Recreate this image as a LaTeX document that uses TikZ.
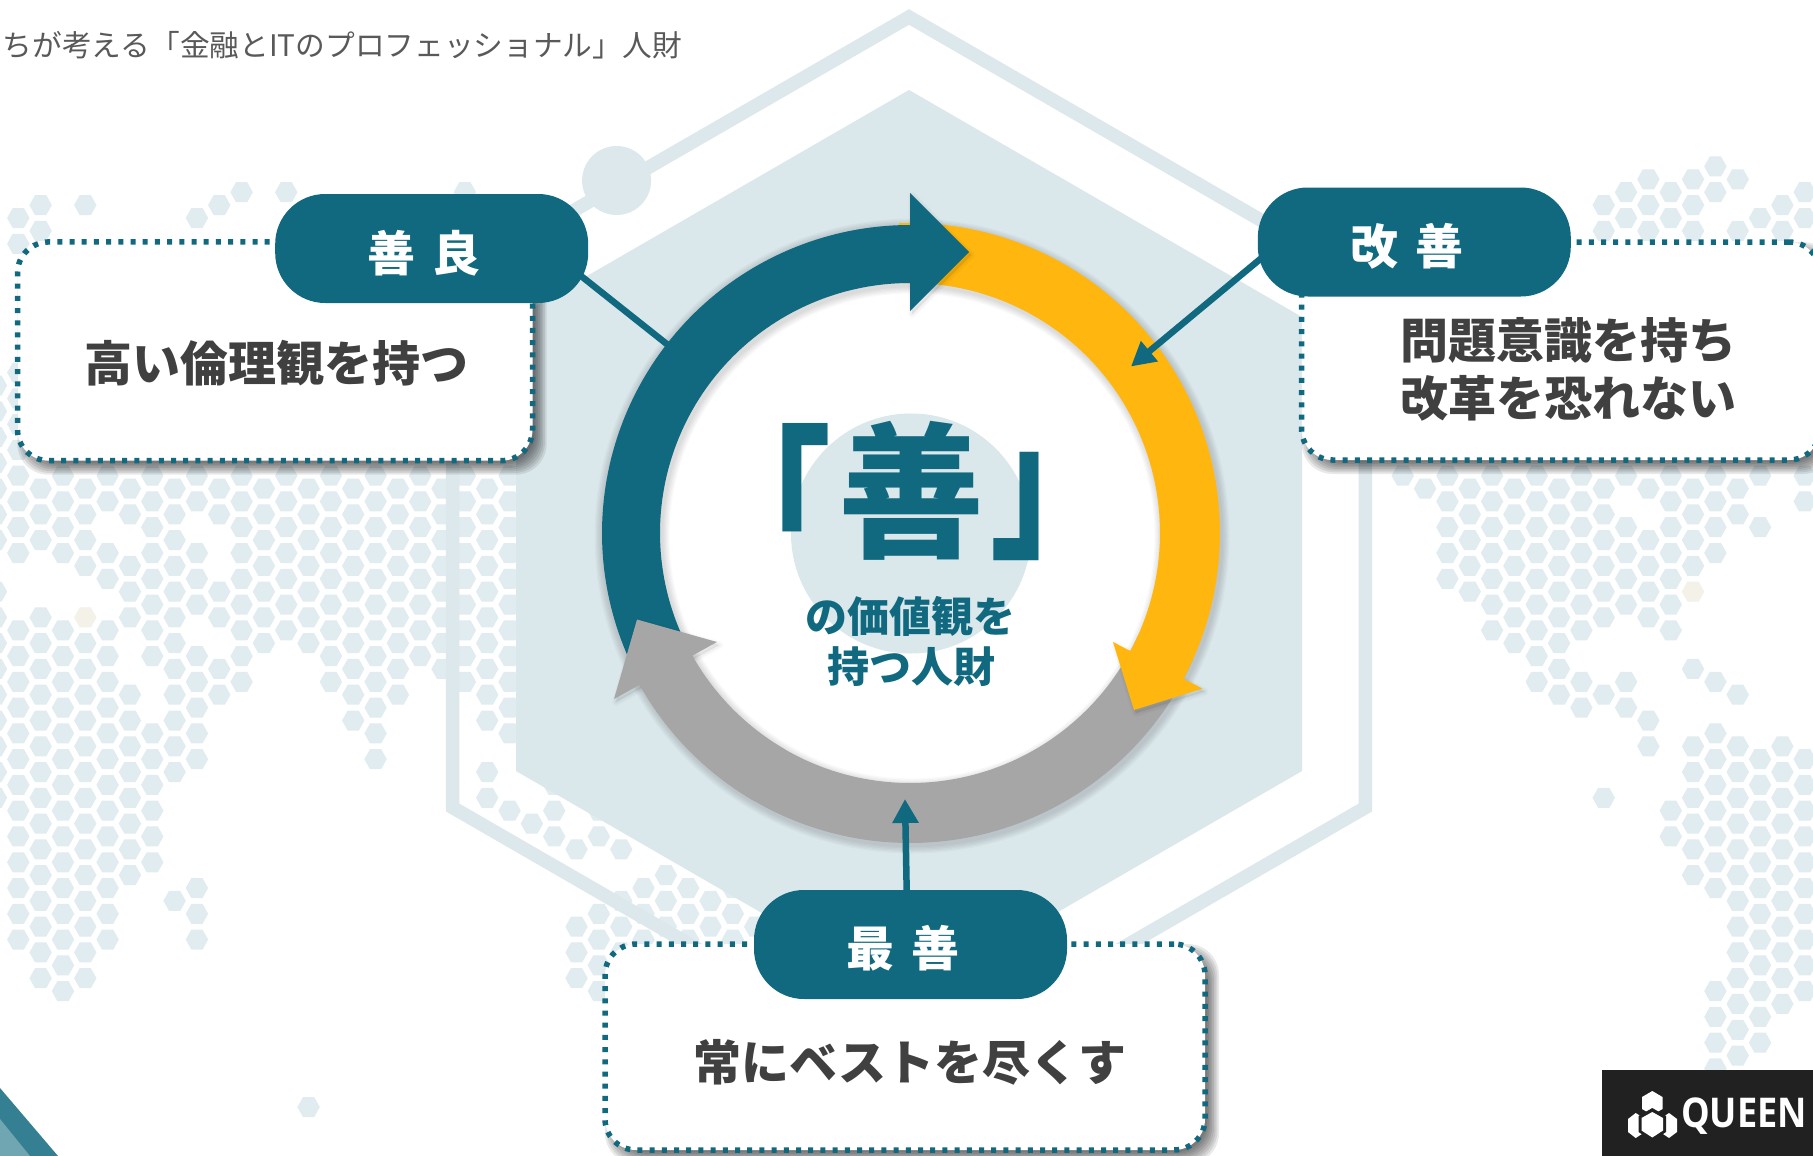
\documentclass[tikz,border=0pt]{standalone}
\usepackage{fontspec}
\setmainfont{Noto Sans CJK JP}
\newfontfamily\qfont[FakeStretch=0.88]{Open Sans}
\usetikzlibrary{arrows.meta}
\definecolor{qteal}{HTML}{10697F}
\definecolor{qyellow}{HTML}{FFB60F}
\definecolor{qgray}{HTML}{A6A6A6}
\definecolor{qfill}{HTML}{DAE7EB}
\definecolor{qline}{HTML}{DCE8EC}
\definecolor{qhex}{HTML}{E1ECF0}
\definecolor{qbeige}{HTML}{F4F1E8}
\definecolor{qtext}{HTML}{404040}
\definecolor{qtitle}{HTML}{595959}
\newcommand\fs[1]{\fontsize{#1pt}{#1pt}\selectfont}
\newcommand\hexat[3]{%
  \pgfmathsetmacro\hx{18.3+22.33*#1}%
  \pgfmathsetmacro\hy{475.7+25.77*#2+12.88*mod(#1+100,2)}%
  \fill[#3] (\hx-11.2,\hy) -- (\hx-5.6,\hy-10) -- (\hx+5.6,\hy-10) -- (\hx+11.2,\hy) -- (\hx+5.6,\hy+10) -- (\hx-5.6,\hy+10) -- cycle;}
\newcommand\ringsec[4]{%
  \fill[#1] plot[domain=#2:#3,samples=90,variable=\ang] ({910+#4*cos(\ang)},{533-#4*sin(\ang)})
    -- plot[domain=#3:#2,samples=90,variable=\ang] ({910+250*cos(\ang)},{533-250*sin(\ang)}) -- cycle;}
\newcommand\softshadow[1]{%
  \foreach \w in {2,4,6,8}{\draw[black,opacity=.015,fill=black,fill opacity=.015,line width=\w pt,line join=round,shift={(2,3)}] #1 -- cycle;}}
\newcommand\boxshadow[4]{%
  \foreach \k in {0,...,7}{%
    \pgfmathsetmacro\ii{7-\k*1.7}%
    \fill[black,opacity=.085,rounded corners=31pt] (#1+7-\ii,#2+7-\ii) rectangle (#3+7+\ii,#4+7+\ii);}}
\tikzset{
  pill/.style={rectangle,rounded corners=50pt,fill=qteal,inner sep=0pt,minimum width=313pt,minimum height=109pt},
  pilltext/.style={text=white,inner sep=0pt,font=\fs{48}\bfseries},
  dotbox/.style={rectangle,rounded corners=31pt,fill=white,draw=qteal,line width=5.5pt,dash pattern=on 5pt off 7.2pt,inner sep=0pt},
  bodytext/.style={text=qtext,font=\fs{48}\bfseries,align=center,inner sep=0pt},
  centertext/.style={text=qteal,font=\fs{42}\bfseries,inner sep=0pt},
  bigtext/.style={text=qteal,inner sep=0pt,font=\fs{146}\bfseries},
  conn/.style={draw=qteal,line width=6.5pt},
  connarrow/.style={conn,-{Triangle[length=24pt,width=25pt]}}
}
\begin{document}
\begin{tikzpicture}[x=1pt,y=-1pt]
\useasboundingbox (0,0) rectangle (1813,1156);
\clip (0,0) rectangle (1813,1156);
\fill[white] (0,0) rectangle (1813,1156);
% world map hexagons
\foreach \i/\js in {
 -1/{-4,-3,...,2,4,5,...,12},
 0/{-10,-9,-4,-3,...,3,6,7,...,18},
 1/{-11,-10,0,1,2,5,6,...,19},
 2/{0,1,2,3,6,7,...,20},
 3/{-11,0,1,2,3,6,7,...,19},
 4/{0,1,3,4,6,7,...,18},
 5/{0,1,3,4,5,8,9,...,15},
 6/{0,1,...,7,10,11,...,15},
 7/{0,1,...,11,16},
 8/{-10,0,1,3,4,5,7,8,9,10,11,16,17,18},
 9/{-11,0,1,4,5,7,8},
 10/{-11,0,1,...,8},
 11/{0,1,...,6},
 12/{-11,0,1,...,6},
 13/{0,1,...,6,24},
 14/{0,1,...,8},
 15/{0,1,...,9},
 16/{0,1,...,11},
 17/{0,1,...,8},
 18/{0,1,...,7},
 19/{0,1,...,7},
 20/{-11,0,1,...,8},
 21/{0,1,...,9,11,12},
 22/{0,1,...,10,13},
 23/{13},
 24/{12,13,14},
 25/{14,17,18,19},
 26/{13,14,17,18,19,20},
 27/{14,16,17,18},
 28/{16,17,18},
 29/{15,16,17},
 30/{16,17,18},
 31/{16,17},
 32/{16,17,18},
 33/{17},
 62/{0},
 63/{0},
 64/{0,1,...,4},
 65/{0,1,...,4},
 66/{0,1,...,6},
 67/{0,1,...,6},
 68/{0,1,...,8},
 69/{0,1,...,8},
 70/{0,1,...,6,8,9},
 71/{-11,-10,0,1,...,5,8,12},
 72/{-11,-10,0,2,3,4,5,8,9},
 73/{-12,-11,-10,0,2,3,4,5,9,10},
 74/{-11,-10,0,1,...,6,13,14},
 75/{-12,-11,-10,0,1,2,3,7,10,11,...,15},
 76/{-12,-11,0,1,2,3,8,10,11,...,16,20,21,22,23},
 77/{-12,-10,0,1,8,10,11,...,22},
 78/{-10,0,2,11,12,...,22},
 79/{-11,-10,10,11,...,20},
 80/{-11,-10,0,1,11,12,...,20}}{
  \foreach \j in \js {\hexat{\i}{\j}{qhex}}
}
\hexat{3}{5}{qbeige}
\hexat{75}{4}{qbeige}
% filled hexagon and outline
\fill[qfill] (909,90) -- (1302,317) -- (1302,771) -- (909,998) -- (516,771) -- (516,317) -- cycle;
\draw[qline,line width=13.5pt,line join=miter] (909,17) -- (1365.4,280.5) -- (1365.4,807.5) -- (909,1071) -- (452.6,807.5) -- (452.6,280.5) -- cycle;
\fill[qline] (616.6,180.5) circle[radius=34.5pt];
% corner triangles
\fill[qteal!85!white] (0,1088) -- (58,1156) -- (0,1156) -- cycle;
\fill[qteal!60!white] (0,1119) -- (30,1156) -- (0,1156) -- cycle;
% ring
\fill[white] (910,533) circle[radius=255pt];
\foreach \k in {1,...,6}{\pgfmathsetmacro\lw{60+2.5*\k}\draw[black,opacity=.022,line width=\lw pt] (912,536) circle[radius=280pt];}
\ringsec{qgray}{-24}{-150.6}{310}
\softshadow{(1113,642) -- (1134,710) -- (1202.5,688.6)}
\ringsec{qyellow}{92}{-30}{310}
\fill[qyellow] (1113,642) -- (1134,710) -- (1202.5,688.6) -- cycle;
\softshadow{(910,193) -- (969,252) -- (910,311)}
\ringsec{qteal}{88}{205.5}{308}
\fill[qteal] (910,193) -- (969,252) -- (910,311) -- cycle;
\softshadow{(717,642) -- (637,619.5) -- (614,699)}
\ringsec{qgray}{-120}{-153}{310}
\fill[qgray] (717,642) -- (637,619.5) -- (614,699) -- cycle;
% centre
\fill[qfill] (911,533.5) circle[radius=120pt];
\node (zen) [bigtext] at (911,491) {善};
\node (brl) [bigtext] at (765,496) {\scalebox{.91}[1.17]{「}};
\node (brr) [bigtext] at (1057,506) {\scalebox{.91}[1.17]{」}};
\node (cv1) [centertext] at (910,616.7) {の価値観を};
\node (cv2) [centertext] at (911,667) {持つ人財};
% title
\node (title) [anchor=east,text=qtitle,inner sep=0pt,font=\fs{29.7}] at (682,45) {たちが考える「金融とITのプロフェッショナル」人財};
% dotted boxes
\boxshadow{17.4}{242}{532.6}{460.7}
\node (box1) [dotbox,minimum width=515pt,minimum height=218.7pt] at (275,351.3) {};
\boxshadow{1301.6}{242}{1820}{460}
\node (box2) [dotbox,minimum width=518.4pt,minimum height=218pt] at (1560.8,351) {};
\boxshadow{605}{944}{1205}{1150}
\node (box3) [dotbox,minimum width=600pt,minimum height=206pt] at (905,1047) {};
\node (t1) [bodytext] at (276.5,363.5) {高い倫理観を持つ};
\node (t2) [bodytext] at (1568,369) {問題意識を持ち\\[10pt]改革を恐れない};
\node (t3) [bodytext] at (910,1062) {常にベストを尽くす};
% connector ends
\coordinate (ringT) at (668,345);
\coordinate (ringY) at (1131,366.5);
\coordinate (ringG) at (905,799);
% pills and connectors (same colour, so they merge)
\node (p1) [pill] at (431.7,248.5) {};
\node (p2) [pill] at (1414.3,242) {};
\node (p3) [pill] at (910.5,944.5) {};
\draw[conn,shorten <=-12pt] (p1.-12.5) -- (ringT);
\draw[connarrow,shorten <=-8pt] (p2.187) -- (ringY);
\draw[connarrow] (p3.94) -- (ringG);
\node (l1) [pilltext] at (423.8,253) {善\kern17pt良};
\node (l2) [pilltext] at (1406.6,246.5) {改\kern17pt善};
\node (l3) [pilltext] at (902.5,948) {最\kern17pt善};
% logo
\fill[black!87] (1601.7,1070) rectangle (1813,1156);
\fill[white] (1652.3,1091) -- (1662.5,1097) -- (1662.5,1109) -- (1652.3,1115) -- (1642,1109) -- (1642,1097) -- cycle;
\fill[white] (1635.7,1113) -- (1645,1119) -- (1645,1132) -- (1635.7,1138) -- (1628,1132) -- (1628,1119) -- cycle;
\fill[white] (1669,1113) -- (1677,1119) -- (1677,1132) -- (1669,1138) -- (1660,1132) -- (1660,1119) -- cycle;
\fill[black!87] (1652.3,1108) -- (1666,1116) -- (1666,1132) -- (1652.3,1141) -- (1638.5,1132) -- (1638.5,1116) -- cycle;
\fill[white] (1652.3,1112) -- (1663,1118) -- (1663,1130.5) -- (1652.3,1137.5) -- (1641.5,1130.5) -- (1641.5,1118) -- cycle;
\node (queen) [anchor=west,text=white,inner sep=0pt,font=\fs{41}\qfont\bfseries] at (1681,1116) {QUEEN};
\end{tikzpicture}
\end{document}
